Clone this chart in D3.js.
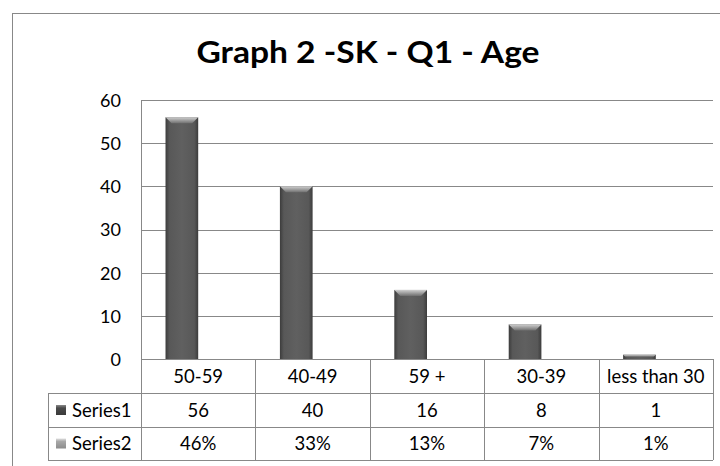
<!DOCTYPE html>
<html><head><meta charset="utf-8">
<script src="https://cdn.jsdelivr.net/npm/d3@7"></script>
<style>
html,body{margin:0;padding:0;background:#fff;}
svg{display:block;}
text{font-family:Lato,"Open Sans",sans-serif;fill:#000;}
</style></head>
<body>
<svg id="c" width="720" height="466"></svg>
<script>
const title = "Graph 2 -SK - Q1 - Age";
const categories = ["50-59","40-49","59 +","30-39","less than 30"];
const series1 = [56,40,16,8,1];
const series2Labels = ["46%","33%","13%","7%","1%"];
const seriesNames = ["Series1","Series2"];
const yTicks = [0,10,20,30,40,50,60];

(function(){
const svg = d3.select("#c");
const defs = svg.append("defs");
const g1 = defs.append("linearGradient").attr("id","barG").attr("x1","0").attr("x2","1").attr("y1","0").attr("y2","0");
[[0,"#3c3c3c"],[0.12,"#585858"],[0.5,"#606060"],[0.88,"#585858"],[1,"#3c3c3c"]].forEach(s=>g1.append("stop").attr("offset",s[0]).attr("stop-color",s[1]));
const gTop = defs.append("linearGradient").attr("id","topG").attr("x1","0").attr("x2","0").attr("y1","0").attr("y2","1");
[[0,"#cfcfcf"],[1,"#707070"]].forEach(s=>gTop.append("stop").attr("offset",s[0]).attr("stop-color",s[1]));
const gL1 = defs.append("linearGradient").attr("id","leg1").attr("x1","0").attr("x2","0").attr("y1","0").attr("y2","1");
[[0,"#8a8a8a"],[0.3,"#4a4a4a"],[1,"#3a3a3a"]].forEach(s=>gL1.append("stop").attr("offset",s[0]).attr("stop-color",s[1]));
const gL2 = defs.append("linearGradient").attr("id","leg2").attr("x1","0").attr("x2","0").attr("y1","0").attr("y2","1");
[[0,"#e0e0e0"],[0.3,"#a8a8a8"],[1,"#8c8c8c"]].forEach(s=>gL2.append("stop").attr("offset",s[0]).attr("stop-color",s[1]));

const line = "#888";
svg.append("rect").attr("x",12.5).attr("y",13.5).attr("width",720).attr("height",480)
  .attr("fill","none").attr("stroke",line).attr("stroke-width",1);

svg.append("text").attr("x",368).attr("y",63).attr("text-anchor","middle")
  .attr("textLength",343).attr("lengthAdjust","spacingAndGlyphs")
  .style("font-size","30px").style("font-weight","bold").text(title);

const pLeft = 141, pRight = 713, pTop = 100, zeroY = 359;
const y = d3.scaleLinear().domain([0,60]).range([zeroY, pTop]);
const x = d3.scaleBand().domain(categories).range([pLeft,pRight]);
const bw = x.bandwidth()/3.5;

svg.append("g").selectAll("line").data(yTicks.slice(1)).join("line")
  .attr("x1",pLeft).attr("x2",pRight).attr("y1",d=>Math.round(y(d))+0.5).attr("y2",d=>Math.round(y(d))+0.5)
  .attr("stroke",line);

const yAxis = d3.axisLeft(y).tickValues(yTicks).tickSize(0).tickPadding(0);
const ya = svg.append("g").attr("transform",`translate(${pLeft-20},0)`).call(yAxis);
ya.select(".domain").remove();
ya.selectAll("text").style("font-size","18px").style("font-family","Lato").attr("fill","#000").attr("dy","0.36em");
svg.append("line").attr("x1",pLeft+0.5).attr("x2",pLeft+0.5).attr("y1",pTop).attr("y2",zeroY).attr("stroke",line);

const bars = svg.append("g").selectAll("g").data(categories).join("g");
bars.each(function(c,i){
  const gg = d3.select(this);
  const bx = x(c) + x.bandwidth()/2 - bw;
  const by = y(series1[i]);
  const h = zeroY - by;
  gg.append("rect").attr("x",bx).attr("y",by).attr("width",bw).attr("height",h).attr("fill","url(#barG)");
  const t = Math.min(6, h/2);
  gg.append("path").attr("d",`M${bx},${by}L${bx+bw},${by}L${bx+bw-t},${by+t}L${bx+t},${by+t}Z`).attr("fill","url(#topG)");
});

const rowY = [zeroY, 393, 427, 460];
const tl = 48;
const tg = svg.append("g");
tg.append("line").attr("x1",pLeft).attr("x2",pRight).attr("y1",rowY[0]+0.5).attr("y2",rowY[0]+0.5).attr("stroke",line);
rowY.slice(1).forEach(r=>tg.append("line").attr("x1",tl).attr("x2",pRight).attr("y1",r+0.5).attr("y2",r+0.5).attr("stroke",line));
tg.append("line").attr("x1",tl+0.5).attr("x2",tl+0.5).attr("y1",rowY[1]).attr("y2",rowY[3]).attr("stroke",line);
const cols = categories.map(c=>x(c)).concat([pRight]);
cols.forEach(cx=>tg.append("line").attr("x1",Math.round(cx)+0.5).attr("x2",Math.round(cx)+0.5).attr("y1",rowY[0]).attr("y2",rowY[3]).attr("stroke",line));

const rows = [categories, series1.map(String), series2Labels];
rows.forEach((row,ri)=>{
  tg.selectAll(null).data(row).join("text")
    .attr("x",(d,i)=>x(categories[i])+x.bandwidth()/2)
    .attr("y",(rowY[ri]+rowY[ri+1])/2).attr("dy","0.36em")
    .attr("text-anchor","middle").style("font-size","18.5px").text(d=>d);
});
seriesNames.forEach((s,i)=>{
  const cy = (rowY[i+1]+rowY[i+2])/2;
  tg.append("rect").attr("x",56).attr("y",cy-5).attr("width",10).attr("height",10)
    .attr("fill",i===0?"url(#leg1)":"url(#leg2)");
  tg.append("text").attr("x",72).attr("y",cy).attr("dy","0.36em").style("font-size","18.5px").text(s);
});
})();
</script>
</body></html>
